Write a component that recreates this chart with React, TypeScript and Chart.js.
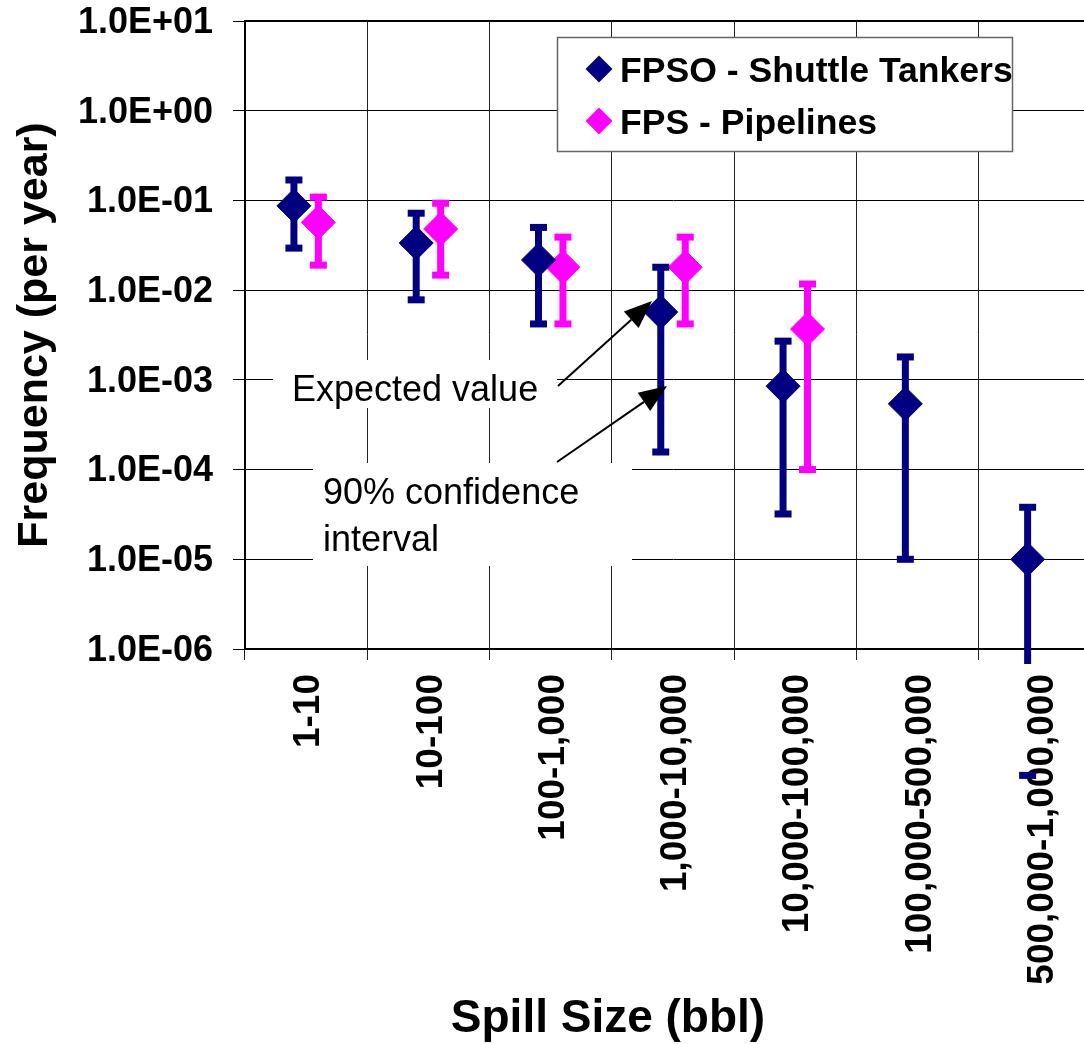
import React, { useEffect, useRef } from 'react';
import { Chart, registerables } from 'chart.js';

Chart.register(...registerables);

// ---------- data ----------
const categories = [
  '1-10',
  '10-100',
  '100-1,000',
  '1,000-10,000',
  '10,000-100,000',
  '100,000-500,000',
  '500,000-1,000,000',
];
const yTickValues = [10, 1, 0.1, 0.01, 0.001, 0.0001, 0.00001, 0.000001];

const fpsoExpected = [0.087, 0.0335, 0.0217, 0.0057, 0.00085, 0.00054, 0.00001];
const fpsoLow = [0.0294, 0.0078, 0.0042, 0.000157, 0.000032, 0.00001, 0.000000039];
const fpsoHigh = [0.169, 0.072, 0.05, 0.018, 0.0027, 0.0018, 0.000038];

const fpsExpected = [0.057, 0.048, 0.018, 0.018, 0.00368];
const fpsLow = [0.019, 0.0147, 0.0042, 0.0042, 0.0001];
const fpsHigh = [0.109, 0.093, 0.039, 0.039, 0.0117];

const seriesNames = ['FPSO - Shuttle Tankers', 'FPS - Pipelines'];
const xTitle = 'Spill Size (bbl)';
const yTitle = 'Frequency (per year)';
const noteExpected = 'Expected value';
const noteInterval = ['90% confidence', 'interval'];

// ---------- style ----------
const NAVY = '#000080';
const MAGENTA = '#FF00FF';
const FONT = '"Liberation Sans", Arial, Helvetica, sans-serif';
const SERIES_SHIFT = 0.1;

const fmtSci = (v: number) => {
  const e = Math.round(Math.log10(v));
  const s = e < 0 ? '-' : '+';
  return `1.0E${s}${String(Math.abs(e)).padStart(2, '0')}`;
};

const drawDiamond = (ctx: CanvasRenderingContext2D, x: number, y: number, r: number, color: string) => {
  ctx.beginPath();
  ctx.moveTo(x - r, y);
  ctx.lineTo(x, y - r);
  ctx.lineTo(x + r, y);
  ctx.lineTo(x, y + r);
  ctx.closePath();
  ctx.fillStyle = color;
  ctx.fill();
};

const drawArrow = (ctx: CanvasRenderingContext2D, x0: number, y0: number, x1: number, y1: number) => {
  const dx = x1 - x0;
  const dy = y1 - y0;
  const len = Math.hypot(dx, dy);
  const ux = dx / len;
  const uy = dy / len;
  const headLen = 28;
  const headW = 11;
  const bx = x1 - ux * headLen;
  const by = y1 - uy * headLen;
  ctx.strokeStyle = '#000';
  ctx.lineWidth = 2;
  ctx.beginPath();
  ctx.moveTo(x0, y0);
  ctx.lineTo(bx, by);
  ctx.stroke();
  ctx.fillStyle = '#000';
  ctx.beginPath();
  ctx.moveTo(x1, y1);
  ctx.lineTo(bx - uy * headW, by + ux * headW);
  ctx.lineTo(bx + uy * headW, by - ux * headW);
  ctx.closePath();
  ctx.fill();
};

const errorBarPlugin = {
  id: 'errorBars',
  beforeDatasetDraw(chart: any, args: any) {
    const ds = chart.data.datasets[args.index];
    const yScale = chart.scales.y;
    const ctx = chart.ctx as CanvasRenderingContext2D;
    const clipBottom = chart.chartArea.bottom + 15;
    ctx.save();
    ctx.fillStyle = ds.backgroundColor;
    args.meta.data.forEach((pt: any, j: number) => {
      const x = pt.x;
      const yH = yScale.getPixelForValue(ds.high[j]);
      const yL = yScale.getPixelForValue(ds.low[j]);
      const yLine = Math.min(yL, clipBottom);
      ctx.fillRect(x - 3.5, yH, 7, yLine - yH);
      ctx.fillRect(x - 8.5, yH - 3.5, 17, 7);
      ctx.fillRect(x - 8.5, yL - 3.5, 17, 7);
    });
    ctx.restore();
  },
};

const decorPlugin = {
  id: 'decor',
  beforeDatasetsDraw(chart: any) {
    const ctx = chart.ctx as CanvasRenderingContext2D;
    ctx.save();
    ctx.fillStyle = '#fff';
    ctx.fillRect(273, 360, 284, 48);
    ctx.fillRect(313, 463, 319, 103);
    ctx.restore();
  },
  afterDatasetsDraw(chart: any) {
    const ctx = chart.ctx as CanvasRenderingContext2D;
    ctx.save();
    // annotations
    ctx.fillStyle = '#000';
    ctx.font = `36px ${FONT}`;
    ctx.textAlign = 'left';
    ctx.textBaseline = 'alphabetic';
    ctx.fillText(noteExpected, 292, 401);
    ctx.fillText(noteInterval[0], 323, 504);
    ctx.fillText(noteInterval[1], 323, 551);
    drawArrow(ctx, 558, 386, 652, 301);
    drawArrow(ctx, 557, 462, 667, 386);

    // legend
    ctx.fillStyle = '#fff';
    ctx.fillRect(557, 37, 455, 114);
    ctx.strokeStyle = '#666';
    ctx.lineWidth = 1.5;
    ctx.strokeRect(557.5, 37.5, 455, 114);
    const rows = [
      { name: seriesNames[0], color: NAVY, y: 69 },
      { name: seriesNames[1], color: MAGENTA, y: 121 },
    ];
    ctx.font = `bold 35.6px ${FONT}`;
    rows.forEach((r) => {
      drawDiamond(ctx, 599, r.y, 13.5, r.color);
      ctx.fillStyle = '#000';
      ctx.fillText(r.name, 620, r.y + 13);
    });
    ctx.restore();
  },
  afterDraw(chart: any) {
    const ctx = chart.ctx as CanvasRenderingContext2D;
    const area = chart.chartArea;
    ctx.save();
    ctx.fillStyle = '#000';
    ctx.fillRect(area.left, area.top - 1, area.right - area.left, 2);

    ctx.font = `bold 46px ${FONT}`;
    ctx.textAlign = 'center';
    ctx.textBaseline = 'alphabetic';
    ctx.fillText(xTitle, 608, 1032);

    ctx.translate(47, (area.top + area.bottom) / 2);
    ctx.rotate(-Math.PI / 2);
    ctx.font = `bold 43px ${FONT}`;
    ctx.fillText(yTitle, 0, 0);
    ctx.restore();
  },
};

export default function App() {
  const ref = useRef<HTMLCanvasElement | null>(null);

  useEffect(() => {
    if (!ref.current) return;
    const yTickFont = { family: FONT, size: 36, weight: 'bold' as const, lineHeight: 1 };
    const xTickFont = { family: FONT, size: 37, weight: 'bold' as const, lineHeight: 1 };
    const chart = new Chart(ref.current, {
      type: 'scatter',
      data: {
        labels: categories,
        datasets: [
          {
            label: seriesNames[0],
            data: fpsoExpected.map((v, i) => ({ x: i - SERIES_SHIFT, y: v })),
            low: fpsoLow,
            high: fpsoHigh,
            xAxisID: 'xv',
            yAxisID: 'y',
            backgroundColor: NAVY,
            borderColor: NAVY,
            borderWidth: 1,
            pointStyle: 'rectRot',
            pointRadius: 17,
            pointHoverRadius: 17,
            clip: false,
          } as any,
          {
            label: seriesNames[1],
            data: fpsExpected.map((v, i) => ({ x: i + SERIES_SHIFT, y: v })),
            low: fpsLow,
            high: fpsHigh,
            xAxisID: 'xv',
            yAxisID: 'y',
            backgroundColor: MAGENTA,
            borderColor: MAGENTA,
            borderWidth: 1,
            pointStyle: 'rectRot',
            pointRadius: 17,
            pointHoverRadius: 17,
            clip: false,
          } as any,
        ],
      },
      options: {
        animation: false,
        responsive: false,
        events: [],
        layout: { padding: { top: 21, left: 0, right: 0, bottom: 0 } },
        plugins: {
          legend: { display: false },
          tooltip: { enabled: false },
        },
        scales: {
          x: {
            type: 'category',
            labels: categories,
            position: 'bottom',
            offset: true,
            grid: { offset: true, color: '#222', lineWidth: 1, tickLength: 11, drawTicks: true },
            border: { display: true, color: '#000', width: 2 },
            ticks: {
              font: xTickFont,
              color: '#000',
              minRotation: 90,
              maxRotation: 90,
              padding: 14,
              labelOffset: 3,
              autoSkip: false,
            },
            afterFit: (s: any) => {
              s.height = 395;
              s.paddingLeft = 0;
              s.paddingRight = 0;
            },
          },
          xv: {
            type: 'linear',
            axis: 'x',
            display: false,
            position: 'bottom',
            min: -0.5,
            max: 6.5,
          },
          y: {
            type: 'logarithmic',
            position: 'left',
            min: 1e-6,
            max: 10,
            grid: { color: '#000', lineWidth: 1, tickLength: 12 },
            border: { display: true, color: '#000', width: 2 },
            ticks: {
              font: yTickFont,
              color: '#000',
              padding: 20,
              labelOffset: 2,
              autoSkip: false,
              callback: (v: any) => fmtSci(Number(v)),
            },
            afterBuildTicks: (s: any) => {
              s.ticks = yTickValues.map((v) => ({ value: v }));
            },
            afterFit: (s: any) => {
              s.width = 245;
              s.paddingTop = 0;
              s.paddingBottom = 0;
            },
          },
        } as any,
      },
      plugins: [errorBarPlugin, decorPlugin],
    });
    return () => chart.destroy();
  }, []);

  return (
    <div
      style={{
        position: 'fixed',
        left: 0,
        top: 0,
        width: 1084,
        height: 1044,
        overflow: 'hidden',
        background: '#fff',
      }}
    >
      <canvas ref={ref} width={1119} height={1044} style={{ display: 'block' }} />
    </div>
  );
}
